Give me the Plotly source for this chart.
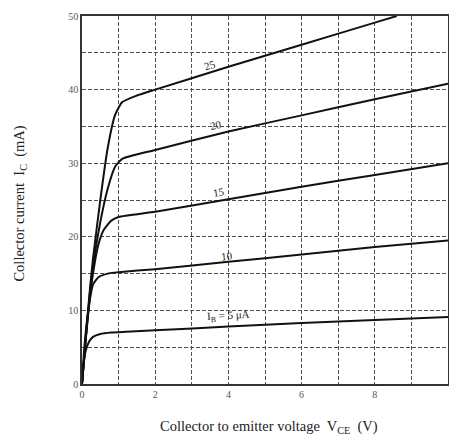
import plotly.graph_objects as go

# Data
vce_5 = [0, 0.05, 0.1, 0.2, 0.3, 0.5, 0.8, 1.2, 2, 4, 6, 8, 10]
ic_5 = [0, 3.0, 4.5, 5.8, 6.4, 6.8, 7.0, 7.1, 7.3, 7.8, 8.3, 8.7, 9.1]

vce_10 = [0, 0.05, 0.1, 0.2, 0.3, 0.45, 0.7, 1.0, 2, 4, 6, 8, 10]
ic_10 = [0, 4.0, 7.0, 11.0, 13.5, 14.5, 15.0, 15.2, 15.6, 16.6, 17.6, 18.6, 19.5]

vce_15 = [0, 0.1, 0.2, 0.3, 0.45, 0.6, 0.8, 1.0, 2, 4, 6, 8, 10]
ic_15 = [0, 6.0, 11.0, 15.0, 19.0, 21.0, 22.2, 22.7, 23.4, 25.1, 26.8, 28.4, 30.0]

vce_20 = [0, 0.1, 0.2, 0.3, 0.5, 0.7, 0.9, 1.1, 2, 4, 6, 8, 10]
ic_20 = [0, 6.0, 11.5, 16.0, 22.0, 26.5, 29.5, 30.6, 31.8, 34.3, 36.5, 38.7, 40.8]

vce_25 = [0, 0.1, 0.2, 0.3, 0.5, 0.7, 0.9, 1.1, 1.5, 2, 4, 6, 8, 8.6]
ic_25 = [0, 6.0, 12.0, 17.0, 25.0, 32.0, 36.5, 38.3, 39.2, 40.0, 43.1, 46.1, 49.1, 50.0]

curve_labels = ["I<sub>B</sub> = 5 μA", "10", "15", "20", "25"]
label_v = [4.0, 3.95, 3.75, 3.65, 3.5]
label_i = [7.9, 16.2, 24.8, 33.9, 42.0]
label_angle = [-3, -6, -9, -12, -17]

x_ticks = [0, 2, 4, 6, 8, 10]
y_ticks = [0, 10, 20, 30, 40, 50]

serif = "Liberation Serif, DejaVu Serif, serif"

fig = go.Figure()
for vx, iy in [(vce_5, ic_5), (vce_10, ic_10), (vce_15, ic_15), (vce_20, ic_20), (vce_25, ic_25)]:
    fig.add_trace(go.Scatter(x=vx, y=iy, mode="lines",
                             line=dict(color="#111111", width=2, shape="spline", smoothing=0.5),
                             showlegend=False, hoverinfo="skip"))

for txt, v, i, a in zip(curve_labels, label_v, label_i, label_angle):
    fig.add_annotation(x=v, y=i, text=txt, showarrow=False, textangle=a,
                       font=dict(family=serif, size=11, color="#222222"),
                       xanchor="center", yanchor="bottom")

grid_col = "#505050"
gdash = "4px,2px"
fig.update_xaxes(range=[0, 10], tickvals=x_ticks, ticktext=[str(t) for t in x_ticks],
                 automargin=False,
                 showgrid=True, gridcolor=grid_col, griddash=gdash, gridwidth=1.4,
                 minor=dict(dtick=1, showgrid=True, gridcolor=grid_col, griddash=gdash, gridwidth=1.4),
                 showline=True, linecolor="#333333", linewidth=1.6, mirror=True,
                 zeroline=False, ticks="",
                 tickfont=dict(family=serif, size=10, color="#555555"))
fig.update_yaxes(range=[0, 50], tickvals=y_ticks, ticktext=[str(t) for t in y_ticks],
                 automargin=False,
                 showgrid=True, gridcolor=grid_col, griddash=gdash, gridwidth=1.4,
                 minor=dict(dtick=5, showgrid=True, gridcolor=grid_col, griddash=gdash, gridwidth=1.4),
                 showline=True, linecolor="#333333", linewidth=1.6, mirror=True,
                 zeroline=False, ticks="",
                 tickfont=dict(family=serif, size=10, color="#555555"))

fig.add_annotation(xref="paper", yref="paper", x=0.51, y=-0.117,
                   text="Collector to emitter voltage  V<sub>CE</sub>  (V)", showarrow=False,
                   font=dict(family=serif, size=14.5, color="#222222"), yanchor="middle")
fig.add_annotation(xref="paper", yref="paper", x=-0.168, y=0.489,
                   text="Collector current  I<sub>C</sub>  (mA)", showarrow=False, textangle=-90,
                   font=dict(family=serif, size=14.5, color="#222222"), xanchor="center",
                   yanchor="middle")

# page body adds an 8px margin on every side, so the figure is sized to fit the window
fig.update_layout(width=441, height=428,
                  margin=dict(l=74, r=1, t=8, b=52),
                  paper_bgcolor="white", plot_bgcolor="white")

fig.write_html("out.html")
